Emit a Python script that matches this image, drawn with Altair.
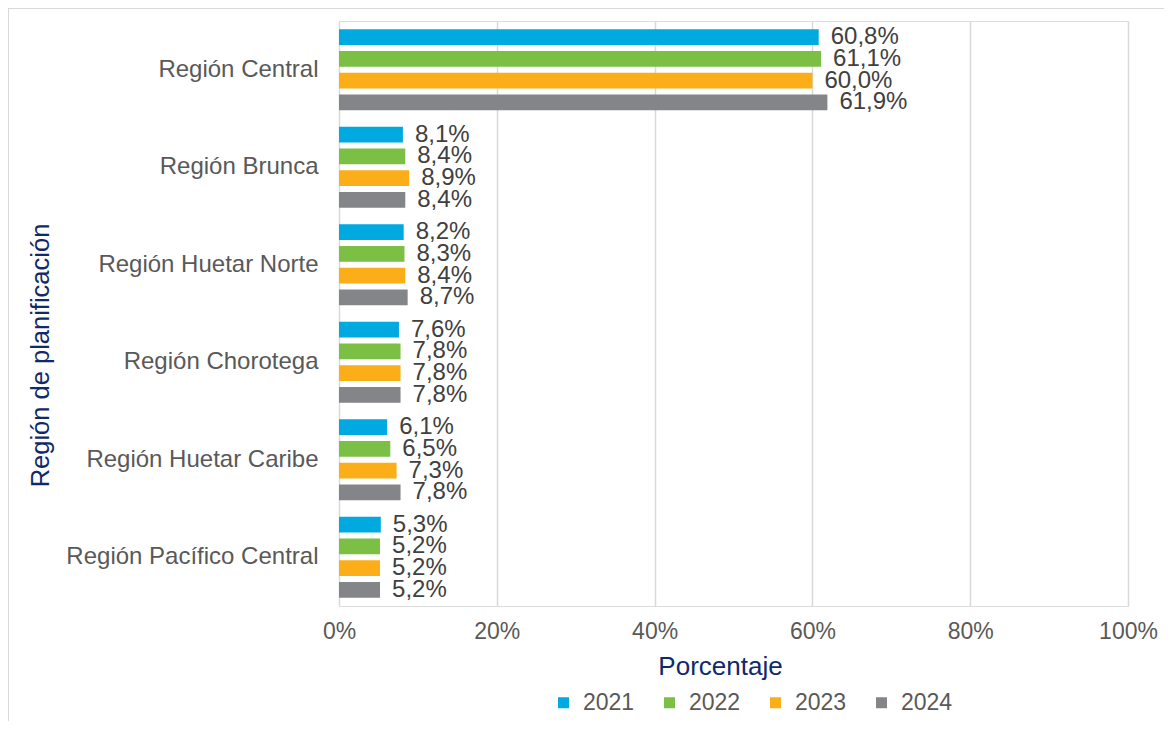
import altair as alt
import pandas as pd

regions = ["Región Central", "Región Brunca", "Región Huetar Norte",
           "Región Chorotega", "Región Huetar Caribe", "Región Pacífico Central"]
years = ["2021", "2022", "2023", "2024"]
v2021 = [60.8, 8.1, 8.2, 7.6, 6.1, 5.3]
v2022 = [61.1, 8.4, 8.3, 7.8, 6.5, 5.2]
v2023 = [60.0, 8.9, 8.4, 7.8, 7.3, 5.2]
v2024 = [61.9, 8.4, 8.7, 7.8, 7.8, 5.2]
colors = ["#00A9E0", "#7BBF44", "#FBAE17", "#848589"]
x_ticks = [0, 20, 40, 60, 80, 100]

rows = []
for yr, vals in zip(years, [v2021, v2022, v2023, v2024]):
    for reg, v in zip(regions, vals):
        rows.append({"region": reg, "year": yr, "value": v})
df = pd.DataFrame(rows)

W, H = 789, 585
FONT = "Liberation Sans"
NAVY = "#0F2A6B"

y_enc = alt.Y("region:N", sort=regions, scale=alt.Scale(paddingInner=0, paddingOuter=0),
              axis=alt.Axis(title="Región de planificación", labelFontSize=24, labelColor="#595959",
                            labelFont=FONT, labelPadding=21, labelLimit=400, ticks=False,
                            domain=False, grid=False,
                            titleFontSize=25.5, titleFont=FONT, titleColor=NAVY, titleFontWeight="normal",
                            titleAngle=-90, titleX=-286, titleY=334, titleBaseline="bottom",
                            titleAlign="center"))
yoff = alt.YOffset("year:N", sort=years,
                   scale=alt.Scale(paddingInner=0.285, paddingOuter=0.385))

base = alt.Chart(df)

bars = base.mark_bar().encode(
    x=alt.X("value:Q", scale=alt.Scale(domain=[0, 100], nice=False),
            axis=alt.Axis(values=x_ticks, labelExpr="datum.value + '%'", title="Porcentaje",
                          labelFontSize=23, labelColor="#595959", labelFont=FONT, labelPadding=14,
                          labelFlush=False, ticks=False, domain=False, grid=True,
                          gridColor="#D9D9D9", gridWidth=1.5,
                          titleFontSize=26, titleFont=FONT, titleColor=NAVY,
                          titleFontWeight="normal", titlePadding=10, titleX=381,
                          titleAlign="center")),
    y=y_enc,
    yOffset=yoff,
    color=alt.Color("year:N", sort=years, scale=alt.Scale(domain=years, range=colors),
                    legend=alt.Legend(title=None, orient="none", direction="horizontal",
                                      legendX=213, legendY=670, symbolType="square",
                                      symbolSize=121, symbolStrokeWidth=0, labelFontSize=23,
                                      labelFont=FONT, labelColor="#595959", labelOffset=8,
                                      columnPadding=23)),
)

labels = base.mark_text(align="left", baseline="middle", dx=12, fontSize=24,
                        font=FONT, color="#404040").transform_calculate(
    label="replace(format(datum.value, '.1f'), '.', ',') + '%'"
).encode(
    x="value:Q",
    y=alt.Y("region:N", sort=regions),
    yOffset=yoff,
    text="label:N",
)

frame = alt.Chart(pd.DataFrame({"a": [0]})).mark_rect(
    fill=None, stroke="#D9D9D9", strokeWidth=2
).encode(x=alt.value(-331), x2=alt.value(W + 200), y=alt.value(-13), y2=alt.value(H + 300))

chart = alt.layer(frame, bars, labels).properties(
    width=W, height=H,
    autosize=alt.AutoSizeParams(type="none"),
    padding={"left": 331, "top": 13, "right": 36, "bottom": 115},
).configure_view(stroke=None).configure(background="white")

chart.save("out.html", embed_options={"renderer": "svg", "actions": False})
